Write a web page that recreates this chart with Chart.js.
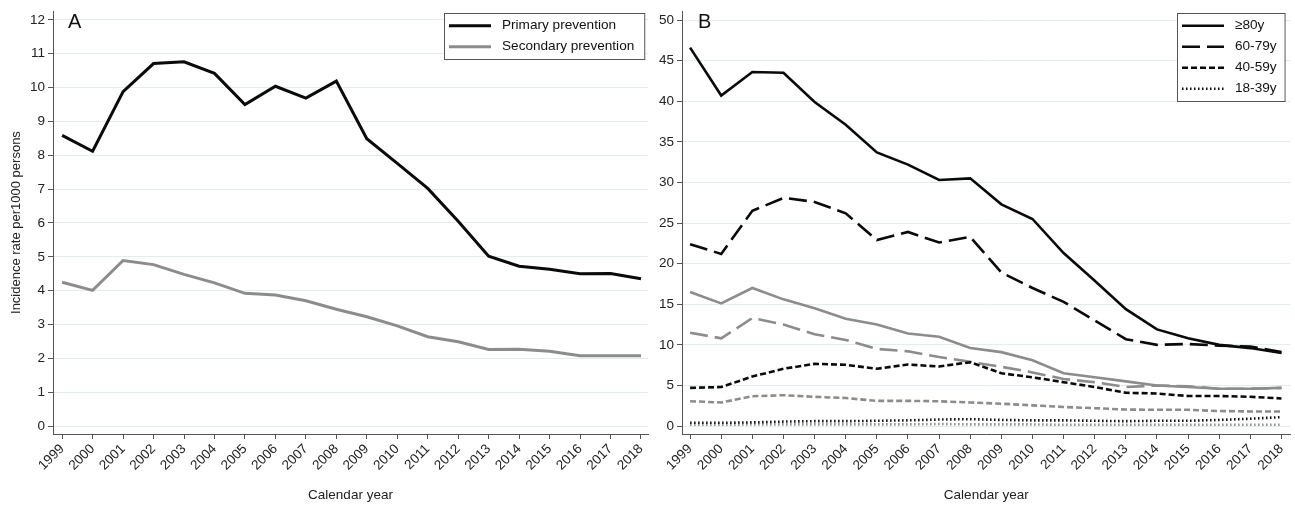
<!DOCTYPE html>
<html>
<head>
<meta charset="utf-8">
<script src="https://cdn.jsdelivr.net/npm/chart.js@4.4.0/dist/chart.umd.min.js"></script>
<style>
  html, body { margin: 0; padding: 0; background: #fff; }
  #wrapA { position: absolute; left: 0; top: 0; width: 655px; height: 506px; }
  #wrapB { position: absolute; left: 655px; top: 0; width: 640px; height: 506px; }
</style>
</head>
<body>
<div id="wrapA"><canvas id="chartA"></canvas></div>
<div id="wrapB"><canvas id="chartB"></canvas></div>
<script>
// anni e valori
const years = [1999, 2000, 2001, 2002, 2003, 2004, 2005, 2006, 2007, 2008,
               2009, 2010, 2011, 2012, 2013, 2014, 2015, 2016, 2017, 2018];

// pannello A
const primary   = [8.59, 8.12, 9.88, 10.71, 10.76, 10.42, 9.50, 10.04, 9.69, 10.19,
                   8.49, 7.76, 7.02, 6.05, 5.02, 4.72, 4.63, 4.50, 4.51, 4.35];
const secondary = [4.25, 4.01, 4.89, 4.77, 4.48, 4.23, 3.92, 3.87, 3.70, 3.45,
                   3.23, 2.96, 2.64, 2.49, 2.26, 2.27, 2.21, 2.08, 2.08, 2.08];
const yTicksA = [0, 1, 2, 3, 4, 5, 6, 7, 8, 9, 10, 11, 12];

// pannello B (nero = prevenzione primaria, grigio = secondaria)
const age80Black = [46.6, 40.7, 43.6, 43.5, 39.9, 37.1, 33.7, 32.2, 30.3, 30.5,
                    27.3, 25.5, 21.3, 17.9, 14.4, 11.9, 10.8, 10.0, 9.6, 9.0];
const age60Black = [22.4, 21.2, 26.5, 28.1, 27.6, 26.2, 22.9, 23.9, 22.6, 23.3,
                    18.9, 17.0, 15.3, 13.0, 10.7, 10.0, 10.1, 9.9, 9.8, 9.1];
const age40Black = [4.7, 4.8, 6.1, 7.05, 7.66, 7.54, 7.05, 7.58, 7.33, 7.86,
                    6.5, 6.0, 5.4, 4.8, 4.1, 4.0, 3.7, 3.7, 3.6, 3.4];
const age18Black = [0.4, 0.4, 0.45, 0.55, 0.6, 0.6, 0.65, 0.7, 0.8, 0.85,
                    0.75, 0.7, 0.7, 0.65, 0.6, 0.65, 0.65, 0.75, 0.9, 1.1];
const age80Gray  = [16.5, 15.1, 17.0, 15.6, 14.5, 13.2, 12.5, 11.4, 11.0, 9.6,
                    9.1, 8.1, 6.5, 6.0, 5.5, 5.0, 4.8, 4.6, 4.6, 4.7];
const age60Gray  = [11.5, 10.8, 13.3, 12.5, 11.3, 10.6, 9.5, 9.2, 8.5, 7.9,
                    7.3, 6.6, 5.8, 5.4, 4.8, 5.0, 4.9, 4.6, 4.6, 4.7];
const age40Gray  = [3.06, 2.9, 3.67, 3.8, 3.6, 3.45, 3.1, 3.1, 3.05, 2.9,
                    2.75, 2.55, 2.35, 2.2, 2.03, 2.0, 2.0, 1.85, 1.8, 1.8];
const age18Gray  = [0.15, 0.15, 0.2, 0.2, 0.2, 0.2, 0.2, 0.2, 0.25, 0.2,
                    0.2, 0.2, 0.15, 0.15, 0.15, 0.15, 0.15, 0.15, 0.15, 0.15];
const yTicksB = [0, 5, 10, 15, 20, 25, 30, 35, 40, 45, 50];

const FONT = '"Liberation Sans", Arial, sans-serif';
const BLACK = '#0a0a0a';
const GRAY = '#8c8c8c';

Chart.defaults.font.family = FONT;
Chart.defaults.font.size = 13.5;
Chart.defaults.color = '#222';

function toPoints(vals) {
  return years.map((y, i) => ({ x: y, y: vals[i] }));
}

function line(label, vals, color, width, dash, inLegend) {
  return {
    label: label,
    data: toPoints(vals),
    borderColor: color,
    backgroundColor: color,
    borderWidth: width,
    borderDash: dash,
    pointRadius: 0,
    tension: 0,
    fill: false,
    inLegend: inLegend
  };
}

// lettera del pannello + legenda con i tratteggi
const panelDecor = {
  id: 'panelDecor',
  afterDraw(chart, args, opts) {
    const { ctx, chartArea } = chart;
    ctx.save();
    ctx.fillStyle = '#111';
    ctx.textBaseline = 'middle';
    ctx.font = '20px ' + FONT;
    ctx.fillText(opts.letter, chartArea.left + opts.letterDx, 22);

    const items = chart.data.datasets.filter(d => d.inLegend);
    ctx.font = '13.6px ' + FONT;
    const textW = Math.max(...items.map(d => ctx.measureText(d.label).width));
    const w = 5 + 42 + 11 + textW + opts.padRight;
    const h = items.length * 21 + 4;
    const x0 = Math.round(chartArea.right - opts.inset - w);
    const y0 = 13;
    ctx.fillStyle = '#fff';
    ctx.fillRect(x0, y0, w, h);
    ctx.strokeStyle = '#555';
    ctx.lineWidth = 1;
    ctx.strokeRect(x0 + 0.5, y0 + 0.5, w, h);
    items.forEach((d, i) => {
      const y = y0 + 12.7 + i * 21;
      ctx.beginPath();
      ctx.setLineDash(d.borderDash || []);
      ctx.strokeStyle = d.borderColor;
      ctx.lineWidth = d.borderWidth;
      ctx.moveTo(x0 + 5, y);
      ctx.lineTo(x0 + 47, y);
      ctx.stroke();
      ctx.setLineDash([]);
      ctx.fillStyle = '#111';
      ctx.fillText(d.label, x0 + 58, y);
    });
    ctx.restore();
  }
};

function makeOptions(cfg) {
  return {
    responsive: true,
    maintainAspectRatio: false,
    animation: false,
    layout: { padding: cfg.padding },
    scales: {
      x: {
        type: 'linear',
        min: cfg.xmin,
        max: cfg.xmax,
        afterBuildTicks: s => { s.ticks = years.map(v => ({ value: v })); },
        afterFit: s => { s.height = 72; },
        ticks: {
          autoSkip: false,
          minRotation: 45,
          maxRotation: 45,
          padding: 2,
          color: '#222',
          callback: v => String(v)
        },
        grid: { drawOnChartArea: false, drawTicks: true, tickLength: 5, tickColor: '#555' },
        border: { display: true, color: '#555', width: 1 },
        title: { display: true, text: 'Calendar year', color: '#222', padding: { top: 0, bottom: 3 } }
      },
      y: {
        min: cfg.ymin,
        max: cfg.ymax,
        afterBuildTicks: s => { s.ticks = cfg.yTicks.map(v => ({ value: v })); },
        afterFit: s => { s.width = cfg.yWidth; },
        ticks: { padding: 3, color: '#222' },
        grid: { color: '#e4eded', lineWidth: 1, drawTicks: true, tickLength: 5, tickColor: '#555' },
        border: { display: true, color: '#555', width: 1 },
        title: {
          display: cfg.yTitle !== '',
          text: cfg.yTitle,
          color: '#222',
          font: { size: 13 },
          padding: { top: 9, bottom: 0 }
        }
      }
    },
    plugins: {
      legend: { display: false },
      tooltip: { enabled: false },
      panelDecor: cfg.decor
    }
  };
}

new Chart(document.getElementById('chartA').getContext('2d'), {
  type: 'line',
  data: {
    datasets: [
      line('Primary prevention', primary, BLACK, 3, [], true),
      line('Secondary prevention', secondary, GRAY, 3, [], true)
    ]
  },
  options: makeOptions({
    padding: { left: 0, top: 8, right: 7, bottom: 0 },
    xmin: 1998.7, xmax: 2018.23,
    ymin: -0.235, ymax: 12.26,
    yTicks: yTicksA,
    yWidth: 53,
    yTitle: 'Incidence rate per1000 persons',
    decor: { letter: 'A', letterDx: 15, inset: 4, padRight: 10 }
  }),
  plugins: [panelDecor]
});

new Chart(document.getElementById('chartB').getContext('2d'), {
  type: 'line',
  data: {
    datasets: [
      line('\u226580y', age80Black, BLACK, 2.6, [], true),
      line('60-79y', age60Black, BLACK, 2.6, [18, 7], true),
      line('40-59y', age40Black, BLACK, 2.6, [6, 3], true),
      line('18-39y', age18Black, BLACK, 2.6, [1.5, 2.5], true),
      line('\u226580y (secondary)', age80Gray, GRAY, 2.6, [], false),
      line('60-79y (secondary)', age60Gray, GRAY, 2.6, [18, 7], false),
      line('40-59y (secondary)', age40Gray, GRAY, 2.6, [6, 3], false),
      line('18-39y (secondary)', age18Gray, GRAY, 2.6, [1.5, 2.5], false)
    ]
  },
  options: makeOptions({
    padding: { left: 0, top: 8, right: 3, bottom: 0 },
    xmin: 1998.74, xmax: 2018.29,
    ymin: -0.98, ymax: 51.1,
    yTicks: yTicksB,
    yWidth: 27,
    yTitle: '',
    decor: { letter: 'B', letterDx: 16, inset: 6, padRight: 8 }
  }),
  plugins: [panelDecor]
});
</script>
</body>
</html>
